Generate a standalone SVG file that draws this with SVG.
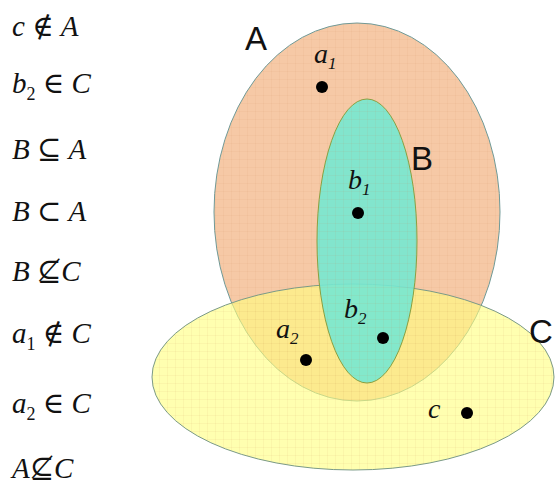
<svg xmlns="http://www.w3.org/2000/svg" width="557" height="499" viewBox="0 0 557 499">
<style>
.m{font-family:"Liberation Serif","DejaVu Serif",serif;font-size:29px;fill:#111}
.i{font-style:italic}
.s{font-size:18px}
.L{font-family:"Liberation Sans",Arial,sans-serif;font-size:33px;fill:#111}
.dot{fill:#000}
.v{font-family:"Liberation Serif","DejaVu Serif",serif;font-style:italic;font-size:28px;fill:#111}
.vs{font-size:17px}
</style>
<defs>
<pattern id="g" width="8" height="8" patternUnits="userSpaceOnUse">
<path d="M8 0V8M0 8H8" stroke="#c08050" stroke-width="0.6" stroke-opacity="0.25" fill="none"/>
</pattern>
</defs>
<rect width="557" height="499" fill="#fff"/>
<g id="setA">
<ellipse cx="357" cy="212" rx="143" ry="189" fill="#f6c9a6" stroke="#6f9a98" stroke-width="1"/>
<ellipse cx="357" cy="212" rx="143" ry="189" fill="url(#g)"/>
<text class="L" x="245" y="50">A</text>
</g>
<g id="setC">
<ellipse cx="353" cy="377" rx="201" ry="93" fill="#ffff80" fill-opacity="0.62" stroke="#7a9a88" stroke-width="1"/>
<ellipse cx="353" cy="377" rx="201" ry="93" fill="url(#g)"/>
<text class="L" x="529" y="343">C</text>
</g>
<g id="setB">
<ellipse cx="367" cy="241" rx="50" ry="142" fill="#76e8d2" fill-opacity="0.9" stroke="#8aa040" stroke-width="1"/>
<ellipse cx="367" cy="241" rx="50" ry="142" fill="url(#g)"/>
<text class="L" x="411" y="170">B</text>
</g>
<g id="elements">
<circle class="dot" cx="322" cy="87" r="6"/>
<text class="v" x="314" y="63">a<tspan class="vs" dy="6">1</tspan></text>
<circle class="dot" cx="358" cy="213" r="6"/>
<text class="v" x="348" y="189">b<tspan class="vs" dy="6">1</tspan></text>
<circle class="dot" cx="383" cy="338" r="6"/>
<text class="v" x="344" y="318">b<tspan class="vs" dy="6">2</tspan></text>
<circle class="dot" cx="306" cy="360" r="6"/>
<text class="v" x="276" y="338">a<tspan class="vs" dy="6">2</tspan></text>
<circle class="dot" cx="467" cy="413" r="6"/>
<text class="v" x="428" y="418">c</text>
</g>
<g id="statements">
<text class="m" x="12" y="36"><tspan class="i">c</tspan> ∉ <tspan class="i">A</tspan></text>
<text class="m" x="12" y="93"><tspan class="i">b</tspan><tspan class="s" dy="7">2</tspan><tspan dy="-7"> ∈ </tspan><tspan class="i">C</tspan></text>
<text class="m" x="12" y="159"><tspan class="i">B</tspan> ⊆ <tspan class="i">A</tspan></text>
<text class="m" x="12" y="221"><tspan class="i">B</tspan> ⊂ <tspan class="i">A</tspan></text>
<text class="m" x="12" y="281"><tspan class="i">B</tspan> ⊈<tspan class="i">C</tspan></text>
<text class="m" x="12" y="343"><tspan class="i">a</tspan><tspan class="s" dy="7">1</tspan><tspan dy="-7"> ∉ </tspan><tspan class="i">C</tspan></text>
<text class="m" x="12" y="413"><tspan class="i">a</tspan><tspan class="s" dy="7">2</tspan><tspan dy="-7"> ∈ </tspan><tspan class="i">C</tspan></text>
<text class="m" x="12" y="478"><tspan class="i">A</tspan>⊈<tspan class="i">C</tspan></text>
</g>
</svg>
